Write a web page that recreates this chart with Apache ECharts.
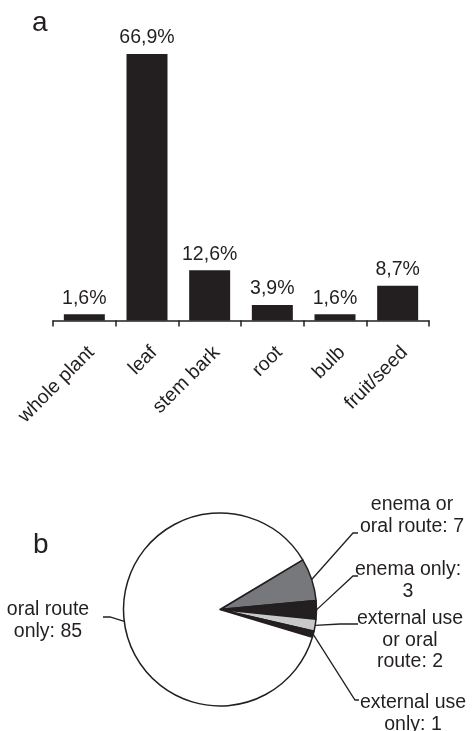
<!DOCTYPE html>
<html lang="en">
<head>
<meta charset="UTF-8">
<title>Plant parts and routes</title>
<script src="https://cdn.jsdelivr.net/npm/echarts@6/dist/echarts.min.js"></script>
<style>html, body { margin: 0; padding: 0; background: #fff; }</style>
</head>
<body>
<div id="main" style="width:475px;height:731px;"></div>
<script>
// panel a: plant parts used (% of preparations)
var parts = ['whole plant', 'leaf', 'stem bark', 'root', 'bulb', 'fruit/seed'];
var partPct = [1.6, 66.9, 12.6, 3.9, 1.6, 8.7];

// panel b: administration routes (number of recipes)
var routes = ['enema or oral route', 'enema only', 'external use or oral route', 'external use only', 'oral route only'];
var routeCounts = [7, 3, 2, 1, 85];
var routeLabelText = ['enema or\noral route: {c}', 'enema only:\n{c}', 'external use\nor oral\nroute: {c}', 'external use\nonly: {c}', 'oral route\nonly: {c}'];

var ink = '#231f20';
var font = '"Liberation Sans", Arial, sans-serif';
var sliceColors = ['#77787b', ink, '#c8c9cb', ink, '#ffffff'];

// pie geometry + where each label sits, with the bend of its leader line
var pieC = [220, 609.5], pieR = 96.5, pieStart = 31;
var labelSpots = [
    { x: 412, y: 494, knee: [353, 533], end: [358, 533] },
    { x: 408, y: 559, knee: [353, 576], end: [358, 576] },
    { x: 410, y: 608, knee: [340, 624], end: [358, 624] },
    { x: 413, y: 692, knee: [355, 700], end: [359, 700] },
    { x: 48, y: 599, knee: [110, 617], end: [103, 617] }
];

// mid angle of each slice on the rim, from the counts
var total = routeCounts.reduce(function (a, b) { return a + b; }, 0);
var rimPts = [];
var ang = pieStart;
for (var i = 0; i < routeCounts.length; i++) {
    var span = routeCounts[i] / total * 360;
    var mid = (ang - span / 2) * Math.PI / 180;
    rimPts.push([pieC[0] + pieR * Math.cos(mid), pieC[1] - pieR * Math.sin(mid)]);
    ang -= span;
}

var pieData = [];
for (var j = 0; j < routes.length; j++) {
    pieData.push({
        name: routes[j],
        value: routeCounts[j],
        itemStyle: { color: sliceColors[j] },
        label: { formatter: routeLabelText[j] }
    });
}

var chart = echarts.init(document.getElementById('main'));
chart.setOption({
    animation: false,
    title: [
        { text: 'a', left: 32, top: 9, padding: 0, textStyle: { fontSize: 28, fontWeight: 'normal', color: ink, fontFamily: font } },
        { text: 'b', left: 33, top: 531, padding: 0, textStyle: { fontSize: 28, fontWeight: 'normal', color: ink, fontFamily: font } }
    ],
    grid: { left: 53, right: 46, top: 41.6, bottom: 410.5 },
    xAxis: {
        type: 'category',
        data: parts,
        axisLine: { lineStyle: { color: ink, width: 1.5 } },
        axisTick: { show: true, length: 6, lineStyle: { color: ink, width: 1.5 } },
        axisLabel: {
            interval: 0,
            rotate: 45,
            margin: 22,
            align: 'right',
            verticalAlign: 'top',
            fontSize: 19.5,
            color: ink,
            fontFamily: font
        }
    },
    yAxis: { type: 'value', show: false, min: 0, max: 70 },
    series: [
        {
            type: 'bar',
            data: partPct,
            barWidth: 41,
            itemStyle: { color: ink },
            label: {
                show: true,
                position: 'top',
                distance: 6,
                fontSize: 19.5,
                color: ink,
                fontFamily: font,
                formatter: function (p) { return p.value.toFixed(1).replace('.', ',') + '%'; }
            }
        },
        {
            type: 'pie',
            center: pieC,
            radius: pieR,
            startAngle: pieStart,
            clockwise: true,
            avoidLabelOverlap: false,
            data: pieData,
            itemStyle: { borderColor: ink, borderWidth: 1.5 },
            label: {
                show: true,
                position: 'outside',
                fontSize: 19.5,
                lineHeight: 21.5,
                color: ink,
                fontFamily: font,
                align: 'center'
            },
            labelLine: { show: true, length: 10, length2: 5, lineStyle: { color: ink, width: 1.3 } },
            labelLayout: function (p) {
                var s = labelSpots[p.dataIndex];
                return {
                    x: s.x,
                    y: s.y,
                    align: 'center',
                    verticalAlign: 'top',
                    labelLinePoints: [rimPts[p.dataIndex], s.knee, s.end]
                };
            },
            emphasis: { disabled: true }
        }
    ]
});
</script>
</body>
</html>
